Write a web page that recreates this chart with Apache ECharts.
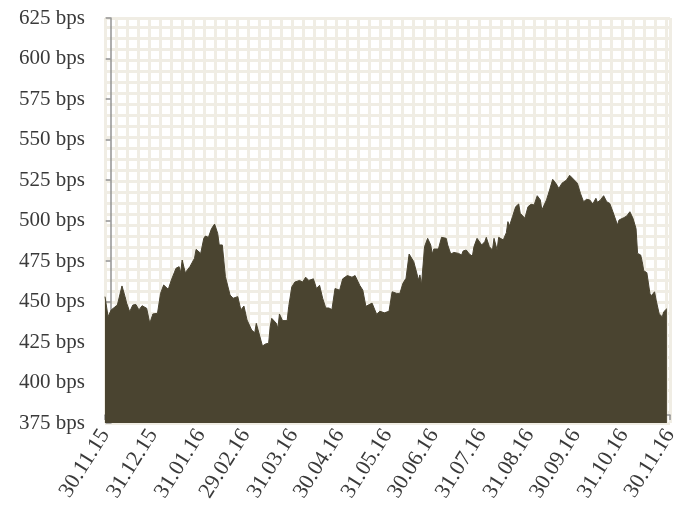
<!DOCTYPE html>
<html>
<head>
<meta charset="utf-8">
<title>Spread, bps</title>
<script src="https://cdn.jsdelivr.net/npm/echarts@6/dist/echarts.min.js"></script>
<style>
  html, body { margin: 0; padding: 0; background: #ffffff; }
  #chart { width: 690px; height: 517px; }
</style>
</head>
<body>
<div id="chart"></div>
<script>
// Observation dates and spread levels (bps)
const dates = [
  '2015-11-30','2015-12-02','2015-12-04','2015-12-08','2015-12-09','2015-12-11','2015-12-13','2015-12-14',
  '2015-12-16','2015-12-18','2015-12-20','2015-12-22','2015-12-24','2015-12-27','2015-12-29','2015-12-31',
  '2016-01-03','2016-01-05','2016-01-07','2016-01-10','2016-01-12','2016-01-15','2016-01-17','2016-01-18',
  '2016-01-19','2016-01-21','2016-01-24','2016-01-27','2016-01-28','2016-01-31','2016-02-02','2016-02-03',
  '2016-02-05','2016-02-07','2016-02-09','2016-02-11','2016-02-12','2016-02-14','2016-02-16','2016-02-19',
  '2016-02-21','2016-02-24','2016-02-26','2016-02-28','2016-03-01','2016-03-04','2016-03-06','2016-03-07',
  '2016-03-11','2016-03-13','2016-03-15','2016-03-16','2016-03-17','2016-03-20','2016-03-21','2016-03-22',
  '2016-03-24','2016-03-27','2016-03-28','2016-03-30','2016-04-01','2016-04-04','2016-04-06','2016-04-08',
  '2016-04-10','2016-04-13','2016-04-15','2016-04-17','2016-04-19','2016-04-21','2016-04-23','2016-04-25',
  '2016-04-27','2016-04-30','2016-05-02','2016-05-05','2016-05-08','2016-05-10','2016-05-13','2016-05-15',
  '2016-05-17','2016-05-19','2016-05-21','2016-05-24','2016-05-26','2016-05-29','2016-06-01','2016-06-03',
  '2016-06-06','2016-06-08','2016-06-10','2016-06-12','2016-06-14','2016-06-17','2016-06-19','2016-06-20',
  '2016-06-21','2016-06-22','2016-06-24','2016-06-26','2016-06-28','2016-06-29','2016-06-30','2016-07-03',
  '2016-07-05','2016-07-08','2016-07-09','2016-07-11','2016-07-13','2016-07-16','2016-07-18','2016-07-19',
  '2016-07-21','2016-07-23','2016-07-25','2016-07-26','2016-07-28','2016-07-31','2016-08-02','2016-08-03',
  '2016-08-05','2016-08-07','2016-08-08','2016-08-10','2016-08-11','2016-08-14','2016-08-16','2016-08-17',
  '2016-08-18','2016-08-20','2016-08-22','2016-08-24','2016-08-25','2016-08-28','2016-08-30','2016-09-01',
  '2016-09-03','2016-09-05','2016-09-07','2016-09-08','2016-09-11','2016-09-13','2016-09-15','2016-09-17',
  '2016-09-19','2016-09-21','2016-09-24','2016-09-26','2016-09-29','2016-10-01','2016-10-03','2016-10-05',
  '2016-10-07','2016-10-09','2016-10-11','2016-10-13','2016-10-14','2016-10-16','2016-10-18','2016-10-20',
  '2016-10-22','2016-10-24','2016-10-27','2016-10-28','2016-10-31','2016-11-02','2016-11-04','2016-11-06',
  '2016-11-08','2016-11-09','2016-11-11','2016-11-12','2016-11-13','2016-11-15','2016-11-17','2016-11-18',
  '2016-11-20','2016-11-21','2016-11-23','2016-11-25','2016-11-26','2016-11-28'
];
const spreadBps = [
  453, 440.6, 444.8, 447.8, 448.9, 459.6, 453, 449,
  443.7, 447.8, 448.2, 444.8, 447.4, 445.8, 436.5, 442.3,
  442.7, 455, 460.2, 457.5, 463.3, 470.5, 471.5, 467.8,
  475.6, 467.8, 471.5, 476.7, 482.2, 479.7, 489, 490.4,
  489.6, 495, 497.8, 492, 484.9, 484.9, 465.3, 454,
  452, 453, 444.8, 447.2, 438.6, 432.4, 430.7, 436.5,
  422.5, 423.8, 424.2, 434.4, 439.6, 436.5, 433.4, 442.3,
  438.2, 438.2, 446.8, 459, 462, 463, 462, 465,
  463, 464, 458, 460, 452, 446, 446, 445,
  458, 457, 464, 466, 465, 466, 460, 457,
  447, 448, 449, 442, 444, 443, 444, 456,
  455, 455, 461.2, 464.3, 479.3, 474.6, 467.4, 463.3,
  466.4, 460.2, 483.8, 489, 484.9, 479.3, 482.4, 482.4,
  489.6, 489, 484.9, 479.3, 480.3, 479.7, 478.7, 481.2,
  481.8, 479.3, 478, 483.8, 489, 484.9, 486.9, 489.6,
  483.8, 481.8, 489, 481.8, 489.6, 488, 492.5, 499.3,
  496.6, 502.4, 508.5, 510.2, 504.4, 501.4, 508.5, 510,
  509.6, 515.3, 512.7, 506.5, 512.7, 518.8, 525.4, 523,
  519.8, 523, 525, 527.9, 525, 523, 516.7, 511.6,
  513.1, 512.7, 510.2, 513.7, 511.2, 512.7, 515.3, 511.6,
  510.5, 505.4, 497.2, 500.3, 501.7, 502.8, 505.4, 501.4,
  495, 479.7, 478.7, 474.6, 469, 467.8, 455, 453.6,
  456, 450.9, 442.3, 440.6, 443.7, 445.6
];
// Month-end dates that carry the x-axis ticks and labels
const tickDates = [
  '2015-11-30','2015-12-31','2016-01-31','2016-02-29','2016-03-31','2016-04-30','2016-05-31',
  '2016-06-30','2016-07-31','2016-08-31','2016-09-30','2016-10-31','2016-11-30'
];
// Y-axis range and step (bps)
const yMin = 375, yMax = 625, yStep = 25;

function toTime(s) {
  const p = s.split('-').map(Number);
  return Date.UTC(p[0], p[1] - 1, p[2]);
}
function pad(n) { return (n < 10 ? '0' : '') + n; }

const seriesData = dates.map((d, i) => [toTime(d), spreadBps[i]]);
const tickTimes = tickDates.map(toTime);

const font = 'Liberation Serif, Times New Roman, serif';
const axisGrey = '#939393';
const textColor = '#3a3a3a';
const gridTint = '#f0ede4';

const chart = echarts.init(document.getElementById('chart'), null, { renderer: 'canvas' });
chart.setOption({
  animation: false,
  backgroundColor: '#ffffff',
  grid: { left: 105, right: 20, top: 18, bottom: 94 },
  xAxis: [
    {
      // dates as UTC milliseconds on a linear scale
      type: 'value',
      min: tickTimes[0],
      max: tickTimes[tickTimes.length - 1],
      axisLine: { show: true, lineStyle: { color: axisGrey, width: 1.5 } },
      axisTick: { show: true, length: 5, lineStyle: { color: axisGrey, width: 1.5 }, customValues: tickTimes },
      axisLabel: {
        customValues: tickTimes,
        rotate: 58,
        margin: 8,
        color: textColor,
        fontFamily: font,
        fontSize: 22,
        showMinLabel: true,
        showMaxLabel: true,
        formatter: function (v) {
          const d = new Date(v);
          return pad(d.getUTCDate()) + '.' + pad(d.getUTCMonth() + 1) + '.' + String(d.getUTCFullYear()).slice(2);
        }
      },
      splitLine: { show: false }
    },
    {
      // background lattice, vertical strokes
      type: 'value',
      position: 'top',
      min: -0.52,
      max: 50.84,
      interval: 1,
      axisLine: { show: false },
      axisTick: { show: false },
      axisLabel: { show: false },
      splitLine: { show: true, lineStyle: { color: gridTint, width: 3 } }
    }
  ],
  yAxis: [
    {
      type: 'value',
      min: yMin,
      max: yMax,
      interval: yStep,
      axisLine: { show: true, lineStyle: { color: axisGrey, width: 1.5 } },
      axisTick: { show: true, length: 5, lineStyle: { color: axisGrey, width: 1.5 } },
      axisLabel: {
        margin: 20,
        color: textColor,
        fontFamily: font,
        fontSize: 21,
        formatter: '{value} bps'
      },
      splitLine: { show: false }
    },
    {
      // background lattice, horizontal strokes
      type: 'value',
      position: 'right',
      min: -0.727,
      max: 36.091,
      interval: 1,
      axisLine: { show: false },
      axisTick: { show: false },
      axisLabel: { show: false },
      splitLine: { show: true, lineStyle: { color: gridTint, width: 3 } }
    }
  ],
  series: [
    {
      type: 'line',
      xAxisIndex: 0,
      yAxisIndex: 0,
      data: seriesData,
      showSymbol: false,
      symbol: 'none',
      lineStyle: { color: '#4a4430', width: 1 },
      areaStyle: { color: '#4a4430', opacity: 1, origin: 'start' },
      z: 3
    }
  ]
});
</script>
</body>
</html>
